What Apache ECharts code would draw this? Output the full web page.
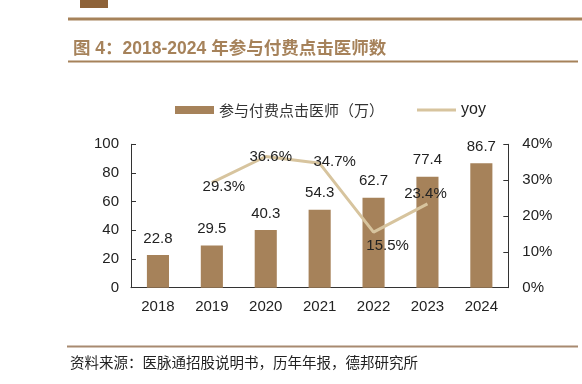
<!DOCTYPE html>
<html>
<head>
<meta charset="utf-8">
<script src="https://cdn.jsdelivr.net/npm/echarts@6/dist/echarts.min.js"></script>
<style>
html,body{margin:0;padding:0;background:#fff;}
#chart{width:582px;height:384px;}
</style>
</head>
<body>
<div id="chart"></div>
<script>
const categories = ['2018','2019','2020','2021','2022','2023','2024'];
const doctors = [22.8, 29.5, 40.3, 54.3, 62.7, 77.4, 86.7];
const yoy = [null, 29.3, 36.6, 34.7, 15.5, 23.4, null];
const leftTicks = [0, 20, 40, 60, 80, 100];
const rightTicks = ['0%', '10%', '20%', '30%', '40%'];
const barName = '参与付费点击医师（万）';
const lineName = 'yoy';
const titleText = '图 4：2018-2024 年参与付费点击医师数';
const sourceText = '资料来源：医脉通招股说明书，历年年报，德邦研究所';

const brown = '#A6825A';
const lineColor = '#D7C49E';
const latin = 'Liberation Sans, Arial, sans-serif';
const cjk = '"Noto Sans CJK SC", sans-serif';

const yoyOffsets = [null, [12, 4], [5, 0], [15, -1], [14, 14], [-2, -10], null];
const yoyData = yoy.map((v, i) => v == null ? null : {
  value: v,
  label: { offset: yoyOffsets[i] }
});

const chart = echarts.init(document.getElementById('chart'), null, { renderer: 'canvas' });
chart.setOption({
  animation: false,
  backgroundColor: '#fff',
  title: {
    text: titleText,
    left: 68, top: 35,
    textStyle: { color: '#A6825A', fontSize: 17.5, fontWeight: 'bold', fontFamily: latin + ', "Noto Sans CJK SC"' }
  },
  graphic: [
    { type: 'rect', shape: { x: 80, y: 0, width: 28, height: 8 }, style: { fill: '#8E6238' } },
    { type: 'line', shape: { x1: 68, y1: 19, x2: 582, y2: 19 }, style: { stroke: brown, lineWidth: 3 } },
    { type: 'line', shape: { x1: 68, y1: 61.5, x2: 578, y2: 61.5 }, style: { stroke: brown, lineWidth: 2 } },
    { type: 'line', shape: { x1: 67, y1: 346.5, x2: 578, y2: 346.5 }, style: { stroke: '#A88A70', lineWidth: 2 } },
    { type: 'text', left: 70, top: 355, style: { text: sourceText, fill: '#222', font: '14.5px "Noto Sans CJK SC", sans-serif' } }
  ],
  legend: {
    left: 170, top: 97,
    itemGap: 33,
    itemWidth: 39,
    itemHeight: 8,
    textStyle: { color: '#333', fontSize: 15, fontFamily: cjk },
    data: [
      { name: barName, icon: 'rect' },
      { name: lineName, icon: 'path://M0,0L39,0L39,3L0,3Z', textStyle: { fontFamily: latin, fontSize: 16, color: '#222' } }
    ]
  },
  grid: { left: 131, right: 73.7, top: 144.3, bottom: 96.3 },
  xAxis: {
    type: 'category',
    data: categories,
    axisLine: { lineStyle: { color: '#333', width: 1 } },
    axisTick: { inside: true, length: 4, lineStyle: { color: '#333' } },
    axisLabel: { color: '#222', fontSize: 15, fontFamily: latin, margin: 12 }
  },
  yAxis: [
    {
      type: 'value', min: 0, max: 100, interval: 20,
      axisLine: { show: true, lineStyle: { color: '#333' } },
      axisTick: { show: true, inside: true, length: 5, lineStyle: { color: '#333' } },
      splitLine: { show: false },
      axisLabel: { color: '#222', fontSize: 15, fontFamily: latin, margin: 12 }
    },
    {
      type: 'value', min: 0, max: 40, interval: 10,
      axisLine: { show: true, lineStyle: { color: '#333' } },
      axisTick: { show: true, inside: true, length: 5, lineStyle: { color: '#333' } },
      splitLine: { show: false },
      axisLabel: {
        color: '#222', fontSize: 15, fontFamily: latin, margin: 14,
        formatter: v => rightTicks[Math.round(v / 10)]
      }
    }
  ],
  series: [
    {
      name: barName,
      type: 'bar',
      data: doctors,
      barWidth: '41%',
      itemStyle: { color: brown },
      label: {
        show: true, position: 'top', distance: 9,
        color: '#222', fontSize: 15, fontFamily: latin
      }
    },
    {
      name: lineName,
      type: 'line',
      yAxisIndex: 1,
      data: yoyData,
      symbol: 'circle',
      symbolSize: 0.1,
      showSymbol: true,
      connectNulls: false,
      lineStyle: { color: lineColor, width: 3 },
      itemStyle: { color: lineColor },
      label: {
        show: true, position: 'inside',
        color: '#222', fontSize: 15, fontFamily: latin,
        formatter: p => p.value.toFixed(1) + '%'
      }
    }
  ]
});
</script>
</body>
</html>
